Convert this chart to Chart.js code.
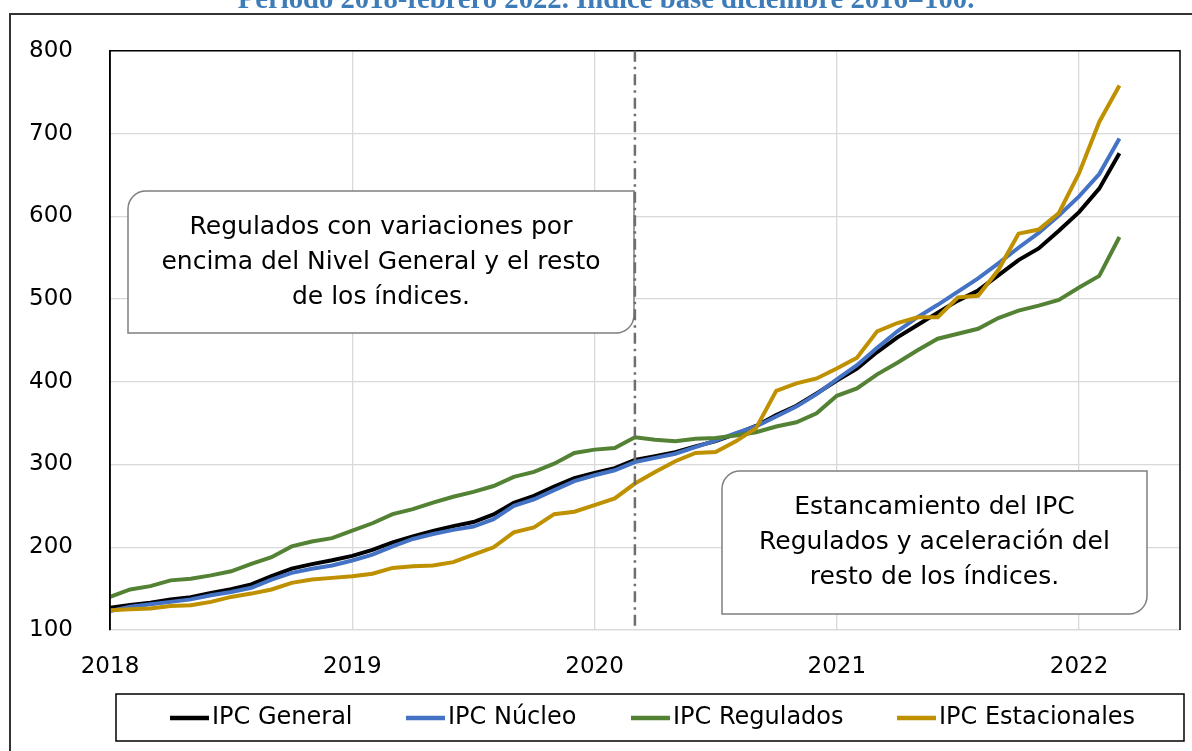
<!DOCTYPE html>
<html>
<head>
<meta charset="utf-8">
<script src="https://cdn.jsdelivr.net/npm/chart.js@4.4.1/dist/chart.umd.min.js"></script>
<style>
  html, body { margin: 0; padding: 0; background: #fff; }
  #wrap { width: 1192px; height: 751px; }
</style>
</head>
<body>
<div id="wrap"><canvas id="chart" width="1192" height="751"></canvas></div>
<script>
// índices mensuales, enero 2018 - marzo 2022 (base dic 2016 = 100)
const general = [127.0, 130.1, 133.1, 136.8, 139.6, 144.8, 149.3, 155.1, 165.2, 174.2, 179.6, 184.3,
  189.6, 196.8, 206.0, 213.1, 219.6, 225.5, 230.5, 239.6, 253.7, 262.1, 273.2, 283.4,
  289.8, 295.7, 305.6, 310.1, 314.9, 322.0, 328.2, 337.1, 346.6, 359.7, 371.0, 385.9,
  401.5, 415.9, 435.9, 453.7, 468.7, 483.6, 498.1, 510.4, 528.5, 547.1, 561.1, 582.5,
  605.0, 633.4, 676.1];
const nucleo = [123, 128, 131, 134, 137, 142, 146, 151, 161, 169, 174, 178,
  184, 191, 201, 210, 216, 221, 225, 234, 250, 258, 269, 280,
  287, 293, 303, 308, 313, 321, 329, 338, 346, 358, 370, 385,
  403, 420, 441, 461, 478, 493, 509, 525, 543, 562, 580, 601,
  624, 651, 694];
const regulados = [140, 149, 153, 160, 162, 166, 171, 180, 188, 201, 207, 211,
  220, 229, 240, 246, 254, 261, 267, 274, 285, 291, 301, 314,
  318, 320, 333, 330, 328, 331, 332, 335, 339, 346, 351, 362,
  383, 392, 409, 423, 438, 452, 458, 464, 477, 486, 492, 499,
  514, 528, 575];
const estacionales = [124, 125, 126, 129, 130, 134, 140, 144, 149, 157, 161, 163,
  165, 168, 175, 177, 178, 182, 191, 200, 218, 224, 240, 243,
  251, 259, 277, 291, 304, 314, 315, 328, 344, 389, 398, 404,
  416, 429, 461, 471, 478, 478, 502, 504, 535, 579, 584, 604,
  652, 714, 758];

const yearTicks = [2018, 2019, 2020, 2021, 2022];
const xMin = 2018, xMax = 2022 + 5 / 12;   // eje de fechas hasta junio 2022
const corteX = 2020 + 2 / 12;              // marzo 2020
// posición de cada mes en años decimales
const meses = general.map((_, i) => 2018 + i / 12);

const series = [
  { label: 'IPC General', data: general, color: '#000000' },
  { label: 'IPC Núcleo', data: nucleo, color: '#4472C4' },
  { label: 'IPC Regulados', data: regulados, color: '#548235' },
  { label: 'IPC Estacionales', data: estacionales, color: '#BF9000' }
];

const FONT = "'DejaVu Sans', sans-serif";

function diagBox(ctx, x, y, w, h, r) {
  ctx.beginPath();
  ctx.moveTo(x + r, y);
  ctx.lineTo(x + w, y);
  ctx.lineTo(x + w, y + h - r);
  ctx.arcTo(x + w, y + h, x + w - r, y + h, r);
  ctx.lineTo(x, y + h);
  ctx.lineTo(x, y + r);
  ctx.arcTo(x, y, x + r, y, r);
  ctx.closePath();
}

function drawNote(ctx, box, lines) {
  ctx.save();
  diagBox(ctx, box.x, box.y, box.w, box.h, 18);
  ctx.fillStyle = '#fff';
  ctx.fill();
  ctx.lineWidth = 1.5;
  ctx.strokeStyle = '#7f7f7f';
  ctx.stroke();
  ctx.fillStyle = '#000';
  ctx.font = '25px ' + FONT;
  ctx.textAlign = 'center';
  ctx.textBaseline = 'middle';
  const cx = box.x + box.w / 2, cy = box.y + box.h / 2;
  lines.forEach((t, i) => ctx.fillText(t, cx, cy + (i - (lines.length - 1) / 2) * 35));
  ctx.restore();
}

const extras = {
  id: 'extras',
  beforeDraw(chart) {
    const ctx = chart.ctx;
    ctx.save();
    ctx.fillStyle = '#fff';
    ctx.fillRect(0, 0, chart.width, chart.height);
    ctx.restore();
  },
  afterDatasetsDraw(chart) {
    const ctx = chart.ctx, a = chart.chartArea, xs = chart.scales.x;

    // marco del área de gráfico
    ctx.save();
    ctx.strokeStyle = '#000';
    ctx.lineWidth = 1.5;
    ctx.beginPath();
    ctx.moveTo(a.left, a.bottom);
    ctx.lineTo(a.left, a.top);
    ctx.lineTo(a.right, a.top);
    ctx.lineTo(a.right, a.bottom);
    ctx.stroke();
    ctx.restore();

    drawNote(ctx, { x: 128, y: 191, w: 506, h: 142 },
      ['Regulados con variaciones por', 'encima del Nivel General y el resto', 'de los índices.']);
    drawNote(ctx, { x: 722, y: 471, w: 425, h: 143 },
      ['Estancamiento del IPC', 'Regulados y aceleración del', 'resto de los índices.']);

    // línea vertical marzo 2020
    const px = xs.getPixelForValue(corteX);
    ctx.save();
    ctx.strokeStyle = '#6e6e6e';
    ctx.lineWidth = 2.5;
    ctx.setLineDash([11, 5, 2.5, 5]);
    ctx.beginPath();
    ctx.moveTo(px, a.top);
    ctx.lineTo(px, a.bottom);
    ctx.stroke();
    ctx.restore();
  },
  afterDraw(chart) {
    const ctx = chart.ctx;
    // marco exterior
    ctx.save();
    ctx.strokeStyle = '#333';
    ctx.lineWidth = 2;
    ctx.beginPath();
    ctx.moveTo(10, chart.height + 5);
    ctx.lineTo(10, 14);
    ctx.lineTo(chart.width + 5, 14);
    ctx.stroke();

    // título (cortado arriba)
    const title = 'Período 2018-febrero 2022. Índice base diciembre 2016=100.';
    ctx.font = "bold 24px 'Liberation Serif', serif";
    const size = 24 * 737 / ctx.measureText(title).width;
    ctx.font = 'bold ' + size.toFixed(1) + "px 'Liberation Serif', serif";
    ctx.fillStyle = '#3E7CB8';
    ctx.textAlign = 'center';
    ctx.textBaseline = 'alphabetic';
    ctx.fillText(title, 606, 8);

    // leyenda
    ctx.strokeStyle = '#000';
    ctx.lineWidth = 1.5;
    ctx.strokeRect(116, 694, 1068, 47);
    const lx = [170, 406, 631, 897];
    ctx.font = '24px ' + FONT;
    ctx.textAlign = 'left';
    ctx.textBaseline = 'middle';
    chart.data.datasets.forEach((ds, i) => {
      ctx.strokeStyle = ds.borderColor;
      ctx.lineWidth = 4.5;
      ctx.beginPath();
      ctx.moveTo(lx[i], 718);
      ctx.lineTo(lx[i] + 39, 718);
      ctx.stroke();
      ctx.fillStyle = '#000';
      ctx.fillText(ds.label, lx[i] + 42, 718);
    });
    ctx.restore();
  }
};

new Chart(document.getElementById('chart'), {
  type: 'line',
  data: {
    datasets: series.map((s, i) => ({
      label: s.label,
      data: s.data.map((v, j) => ({ x: meses[j], y: v })),
      borderColor: s.color,
      backgroundColor: s.color,
      borderWidth: 4,
      pointRadius: 0,
      tension: 0,
      order: series.length - i
    }))
  },
  options: {
    responsive: false,
    animation: false,
    devicePixelRatio: 1,
    layout: { padding: { left: 0, right: 12, top: 44, bottom: 76 } },
    plugins: { legend: { display: false }, tooltip: { enabled: false } },
    scales: {
      x: {
        type: 'linear',
        min: xMin,
        max: xMax,
        afterBuildTicks: s => { s.ticks = yearTicks.map(v => ({ value: v })); },
        afterFit: s => { s.height = 45; },
        grid: { color: '#d9d9d9', lineWidth: 1.3, drawTicks: false },
        border: { color: '#d9d9d9', width: 1.3 },
        ticks: { padding: 23, color: '#000', maxRotation: 0, font: { family: FONT, size: 23 }, callback: v => String(v) }
      },
      y: {
        min: 100,
        max: 800,
        afterFit: s => { s.width = 110; },
        grid: { color: '#d9d9d9', lineWidth: 1.3, drawTicks: false },
        border: { color: '#000', width: 1.5 },
        ticks: { stepSize: 100, padding: 37, color: '#000', font: { family: FONT, size: 23 } }
      }
    }
  },
  plugins: [extras]
});
</script>
</body>
</html>
